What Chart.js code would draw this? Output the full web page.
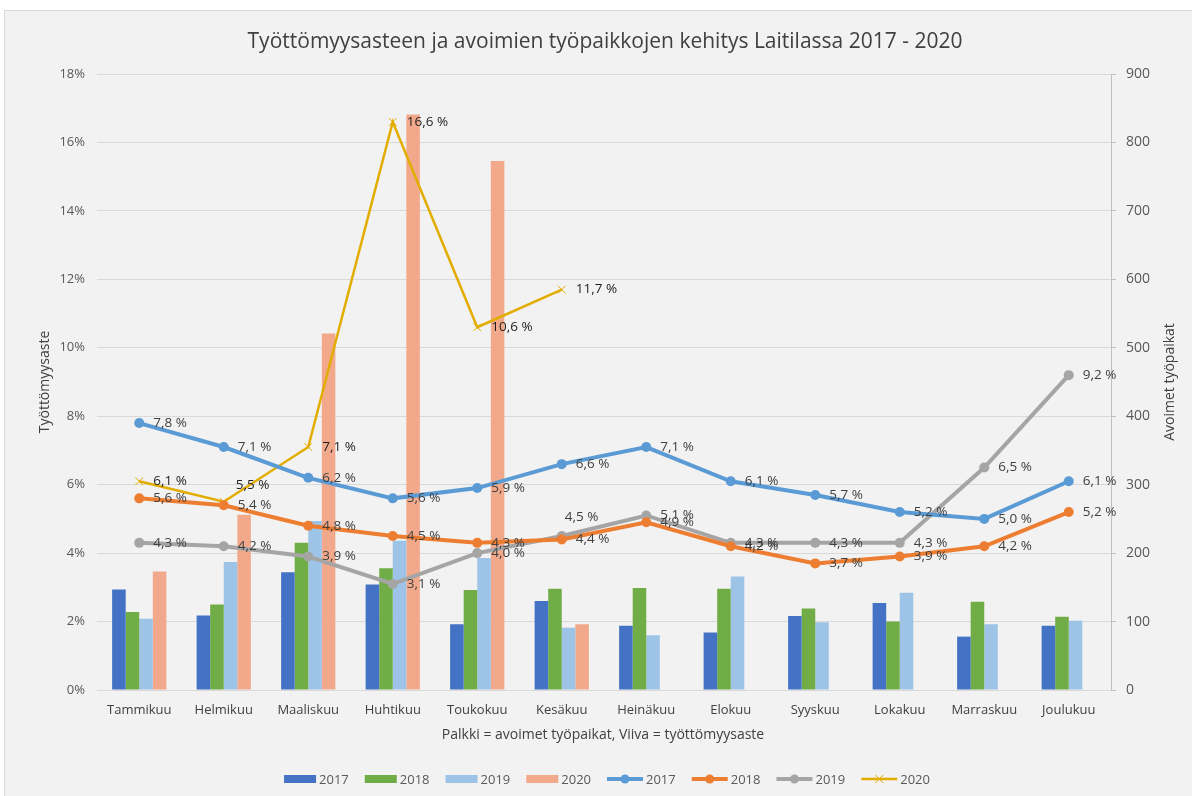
<!DOCTYPE html>
<html>
<head>
<meta charset="utf-8">
<script src="https://cdn.jsdelivr.net/npm/chart.js@4.4.1/dist/chart.umd.min.js"></script>
<style>
  html, body { margin: 0; padding: 0; background: #fff; }
  #chart { display: block; }
</style>
</head>
<body>
<canvas id="chart" width="1192" height="796"></canvas>
<script>
// categories
const months = ["Tammikuu", "Helmikuu", "Maaliskuu", "Huhtikuu", "Toukokuu", "Kesäkuu",
  "Heinäkuu", "Elokuu", "Syyskuu", "Lokakuu", "Marraskuu", "Joulukuu"];
const years = ["2017", "2018", "2019", "2020"];

// avoimet työpaikat (bars, right axis)
const jobs2017 = [147, 109, 172, 154, 96, 130, 94, 84, 108, 127, 78, 94];
const jobs2018 = [114, 125, 215, 178, 146, 148, 149, 148, 119, 100, 129, 107];
const jobs2019 = [104, 187, 247, 218, 193, 91, 80, 166, 99, 142, 96, 101];
const jobs2020 = [173, 256, 521, 841, 773, 96, null, null, null, null, null, null];

// työttömyysaste % (lines, left axis)
const rate2017 = [7.8, 7.1, 6.2, 5.6, 5.9, 6.6, 7.1, 6.1, 5.7, 5.2, 5.0, 6.1];
const rate2018 = [5.6, 5.4, 4.8, 4.5, 4.3, 4.4, 4.9, 4.2, 3.7, 3.9, 4.2, 5.2];
const rate2019 = [4.3, 4.2, 3.9, 3.1, 4.0, 4.5, 5.1, 4.3, 4.3, 4.3, 6.5, 9.2];
const rate2020 = [6.1, 5.5, 7.1, 16.6, 10.6, 11.7, null, null, null, null, null, null];

const barColors = ["#4472c4", "#70ad47", "#9dc3e6", "#f2a98b"];
const lineColors = ["#5b9bd5", "#ed7d31", "#a5a5a5", "#e3ad00"];

const FONT = "'Open Sans', 'Noto Sans', sans-serif";

const ctx = document.getElementById("chart").getContext("2d");

function fmt(v) {
  return v.toFixed(1).replace(".", ",") + " %";
}

// background panel with thin border, like the Excel chart area
const panel = {
  id: "panel",
  beforeDraw(chart) {
    const c = chart.ctx;
    c.save();
    c.fillStyle = "#ffffff";
    c.fillRect(0, 0, chart.width, chart.height);
    c.fillStyle = "#f2f2f2";
    c.fillRect(4, 10, chart.width, chart.height);
    c.strokeStyle = "#d9d9d9";
    c.lineWidth = 1;
    c.strokeRect(4.5, 10.5, chart.width + 10, chart.height + 10);
    c.restore();
  }
};

// value labels next to the line points (dataset index - point index)
const labelShift = { "7-1": [12, -17], "6-5": [3, -19] };
const pointLabels = {
  id: "pointLabels",
  afterDatasetsDraw(chart) {
    const c = chart.ctx;
    c.save();
    c.font = "13.5px " + FONT;
    c.textBaseline = "middle";
    chart.data.datasets.forEach((ds, i) => {
      if (ds.type !== "line") return;
      const meta = chart.getDatasetMeta(i);
      c.fillStyle = i === 7 ? "#1f1f1f" : "#404040";
      meta.data.forEach((pt, j) => {
        const v = ds.data[j];
        if (v == null) return;
        const s = labelShift[i + "-" + j] || [14, 0];
        c.fillText(fmt(v), pt.x + s[0], pt.y + s[1]);
      });
    });
    c.restore();
  }
};

// title, axis titles and legend
const texts = {
  id: "texts",
  afterDraw(chart) {
    const c = chart.ctx;
    const area = chart.chartArea;
    c.save();
    c.fillStyle = "#404040";
    c.textAlign = "center";
    c.textBaseline = "middle";
    c.font = "21px " + FONT;
    c.fillText("Työttömyysasteen ja avoimien työpaikkojen kehitys Laitilassa 2017 - 2020", 605, 42);

    c.font = "14px " + FONT;
    c.fillText("Palkki = avoimet työpaikat, Viiva = työttömyysaste", 603, 735);

    c.save();
    c.translate(45, (area.top + area.bottom) / 2);
    c.rotate(-Math.PI / 2);
    c.fillText("Työttömyysaste", 0, 0);
    c.restore();

    c.save();
    c.translate(1170, (area.top + area.bottom) / 2);
    c.rotate(-Math.PI / 2);
    c.fillText("Avoimet työpaikat", 0, 0);
    c.restore();

    // legend
    c.font = "13px " + FONT;
    c.textAlign = "left";
    const items = [];
    years.forEach((y, k) => items.push({ kind: "bar", color: barColors[k], text: y }));
    years.forEach((y, k) => items.push({ kind: "line", color: lineColors[k], text: y, cross: k === 3 }));
    const widths = items.map(it => (it.kind === "bar" ? 32 : 36) + 3 + c.measureText(it.text).width);
    const gap = 16;
    const total = widths.reduce((a, b) => a + b, 0) + gap * (items.length - 1);
    let x = 607 - total / 2;
    const ly = 779;
    items.forEach((it, k) => {
      if (it.kind === "bar") {
        c.fillStyle = it.color;
        c.fillRect(x, ly - 4, 32, 8);
        x += 32;
      } else {
        c.strokeStyle = it.color;
        c.lineWidth = it.cross ? 2.5 : 4;
        c.beginPath();
        c.moveTo(x, ly);
        c.lineTo(x + 36, ly);
        c.stroke();
        if (it.cross) {
          c.lineWidth = 1;
          c.beginPath();
          c.moveTo(x + 14, ly - 4); c.lineTo(x + 22, ly + 4);
          c.moveTo(x + 22, ly - 4); c.lineTo(x + 14, ly + 4);
          c.stroke();
        } else {
          c.fillStyle = it.color;
          c.beginPath();
          c.arc(x + 18, ly, 4.5, 0, Math.PI * 2);
          c.fill();
        }
        x += 36;
      }
      c.fillStyle = "#595959";
      c.fillText(it.text, x + 3, ly + 1);
      x += widths[k] - (it.kind === "bar" ? 32 : 36) + gap;
    });
    c.restore();
  }
};

const barSets = [jobs2017, jobs2018, jobs2019, jobs2020].map((d, k) => ({
  type: "bar",
  label: years[k],
  data: d,
  yAxisID: "y2",
  backgroundColor: barColors[k],
  categoryPercentage: 0.642,
  barPercentage: 1.0,
  order: 2
}));

const lineSets = [rate2017, rate2018, rate2019, rate2020].map((d, k) => ({
  type: "line",
  label: years[k],
  data: d,
  yAxisID: "y",
  borderColor: lineColors[k],
  backgroundColor: lineColors[k],
  borderWidth: k === 3 ? 2.5 : 4,
  pointStyle: k === 3 ? "crossRot" : "circle",
  pointRadius: k === 3 ? 5.5 : 5,
  pointBorderWidth: k === 3 ? 1 : 0,
  pointBorderColor: lineColors[k],
  tension: 0,
  fill: false,
  order: 1
}));

const chart = new Chart(ctx, {
  type: "bar",
  data: {
    labels: months,
    datasets: [...barSets, ...lineSets]
  },
  options: {
    responsive: false,
    animation: false,
    layout: { padding: { top: 74, left: 0, right: 0, bottom: 0 } },
    plugins: {
      legend: { display: false },
      title: { display: false },
      tooltip: { enabled: false }
    },
    scales: {
      x: {
        grid: { display: false, drawTicks: false },
        border: { display: false },
        ticks: { color: "#404040", font: { family: FONT, size: 13 }, padding: 12, maxRotation: 0, autoSkip: false },
        afterFit(s) { s.height = 106; }
      },
      y: {
        position: "left",
        min: 0,
        max: 18,
        ticks: { stepSize: 2, callback: v => v + "%", padding: 12, color: "#595959", font: { family: FONT, size: 13 } },
        grid: { color: "#d9d9d9", drawTicks: false },
        border: { display: false },
        afterFit(s) { s.width = 97; }
      },
      y2: {
        position: "right",
        min: 0,
        max: 900,
        ticks: { stepSize: 100, padding: 10, color: "#595959", font: { family: FONT, size: 14 } },
        grid: { drawOnChartArea: false, drawTicks: true, tickLength: 5, color: "#bfbfbf" },
        border: { display: true, color: "#bfbfbf" },
        afterFit(s) { s.width = 81; }
      }
    }
  },
  plugins: [panel, pointLabels, texts]
});
</script>
</body>
</html>
